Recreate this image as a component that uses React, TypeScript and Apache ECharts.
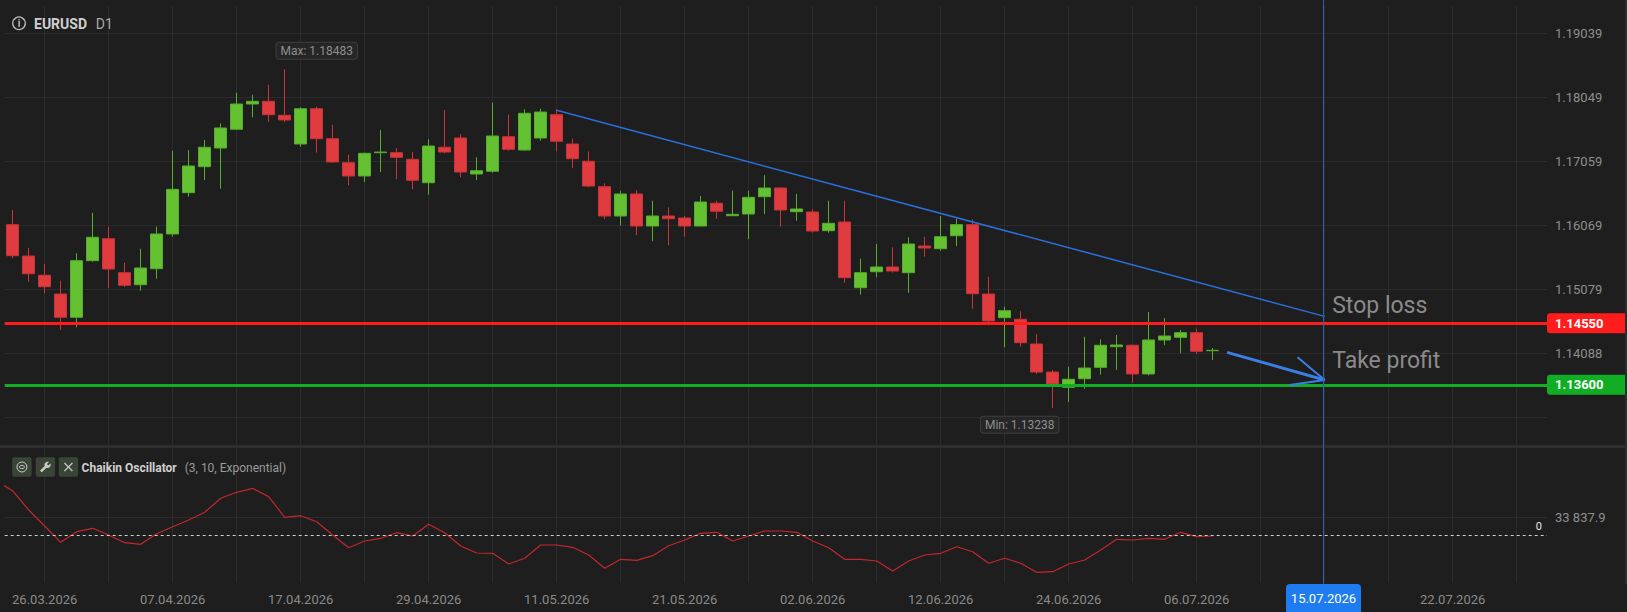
import React, { useEffect, useRef } from "react";
import * as echarts from "echarts";

// ---------- DATA ----------
// daily candles, 24.03.2026 .. 07.07.2026 (weekdays)
const opens = [
  1.16077, 1.15592, 1.15294, 1.15004, 1.14644, 1.1552, 1.1586, 1.15334, 1.15148, 1.15396,
  1.15933, 1.16572, 1.16974, 1.17263, 1.17553, 1.17944, 1.17986, 1.17769, 1.17325, 1.17871,
  1.17407, 1.17036, 1.1683, 1.17191, 1.17191, 1.17088, 1.16726, 1.17274, 1.17418, 1.16861,
  1.16903, 1.17438, 1.17232, 1.17418, 1.17779, 1.17325, 1.17058, 1.16665, 1.16211, 1.16552,
  1.16056, 1.16211, 1.1618, 1.16056, 1.16408, 1.16216, 1.16242, 1.1651, 1.16644, 1.16278,
  1.16273, 1.15984, 1.16118, 1.15102, 1.15349, 1.15422, 1.15334, 1.15747, 1.15705, 1.15906,
  1.16077, 1.15004, 1.14638, 1.14613, 1.14231, 1.13797, 1.13561, 1.13694, 1.1387, 1.14189,
  1.14211, 1.13767, 1.14293, 1.14334, 1.14406, 1.14127,
];
const closes = [
  1.15597, 1.15318, 1.15117, 1.14644, 1.1552, 1.15882, 1.15391, 1.15139, 1.15407, 1.15933,
  1.16624, 1.16985, 1.17274, 1.17573, 1.17944, 1.17986, 1.17779, 1.17697, 1.17871, 1.17407,
  1.17047, 1.1683, 1.17181, 1.17201, 1.17119, 1.16764, 1.17294, 1.17201, 1.16892, 1.16912,
  1.17449, 1.17243, 1.178, 1.1782, 1.17367, 1.17098, 1.16675, 1.16211, 1.16552, 1.16056,
  1.16211, 1.16169, 1.16056, 1.16428, 1.16284, 1.16237, 1.165, 1.16644, 1.16304, 1.1632,
  1.15979, 1.16098, 1.15257, 1.15334, 1.15422, 1.1536, 1.15778, 1.15716, 1.15891, 1.16077,
  1.15009, 1.14587, 1.14746, 1.14251, 1.13797, 1.13612, 1.13685, 1.13859, 1.14211, 1.14215,
  1.13767, 1.14293, 1.14355, 1.14406, 1.14118, 1.14133,
];
const lows = [
  1.15557, 1.15195, 1.15015, 1.14447, 1.14489, 1.15504, 1.15093, 1.15113, 1.15055, 1.15241,
  1.15891, 1.1651, 1.16768, 1.16634, 1.17542, 1.17738, 1.17666, 1.17666, 1.17283, 1.17191,
  1.17036, 1.16686, 1.16737, 1.16892, 1.16779, 1.16624, 1.16541, 1.17181, 1.1681, 1.16768,
  1.16881, 1.17222, 1.17222, 1.17376, 1.17212, 1.16954, 1.16655, 1.1616, 1.16067, 1.15913,
  1.1582, 1.15758, 1.15891, 1.16056, 1.16169, 1.16216, 1.15851, 1.16242, 1.16046, 1.16138,
  1.15953, 1.15953, 1.15179, 1.14994, 1.15263, 1.15334, 1.15024, 1.15581, 1.15674, 1.15747,
  1.14777, 1.1452, 1.1418, 1.14189, 1.13767, 1.13238, 1.13333, 1.13539, 1.13756, 1.13829,
  1.13632, 1.13746, 1.14211, 1.14087, 1.14076, 1.13983,
];
const highs = [
  1.16304, 1.15716, 1.15468, 1.1521, 1.15634, 1.16262, 1.16046, 1.15489, 1.15705, 1.16046,
  1.17222, 1.17232, 1.17387, 1.17645, 1.18119, 1.18088, 1.18243, 1.18483, 1.17893, 1.17902,
  1.17624, 1.1716, 1.17191, 1.17542, 1.17263, 1.17201, 1.17398, 1.17851, 1.1748, 1.17119,
  1.17964, 1.17779, 1.17862, 1.17871, 1.17862, 1.17407, 1.17212, 1.16717, 1.16603, 1.16613,
  1.16448, 1.16346, 1.16211, 1.16521, 1.16448, 1.16603, 1.16603, 1.16841, 1.1665, 1.16552,
  1.16315, 1.16448, 1.16448, 1.15551, 1.15778, 1.15727, 1.15882, 1.15891, 1.16211, 1.16169,
  1.1616, 1.15272, 1.14808, 1.14737, 1.14385, 1.13829, 1.1388, 1.14344, 1.14303, 1.1437,
  1.1422, 1.14726, 1.14633, 1.14447, 1.14468, 1.14169,
];

// Chaikin Oscillator (3, 10, Exponential); first value belongs to the bar before 24.03
const chaikinFirstIndex = -1;
const chaikin = [
  100500, 82000, 46800, 17200, -12950, 6660, 12950, 550, -13700, -16650, 2960,
  15900, 28300, 42550, 68450, 79550, 86950, 71400, 33300, 36260, 25160,
  550, -22940, -10550, -5550, 4810, -1300, 20350, 4810, -19800, -32750,
  -33300, -53100, -42550, -17950, -17950, -22200, -36450, -61050, -44400, -46250,
  -37740, -19240, -8700, 3700, 5550, -10550, -1300, 7950, 7950, 5550,
  -10550, -22940, -44400, -44400, -47550, -66050, -47550, -36450, -33300, -21100,
  -30340, -51800, -42550, -51800, -68450, -67340, -53100, -45700, -27200, -7400,
  -8700, -5550, -7400, 5550, -2590, -1300,
];

const stopLoss = 1.1455;
const takeProfit = 1.136;

// axis ticks
const priceGridValues = [1.130982, 1.140884, 1.150786, 1.160688, 1.17059, 1.180492, 1.190394];
const priceLabelValues = [1.140884, 1.150786, 1.160688, 1.17059, 1.180492, 1.190394];
const chaikinTickValues = [33837.9];
const xGridIndices = [2, 6, 10, 14, 18, 22, 26, 30, 34, 38, 42, 46, 50, 54, 58, 62, 66, 70, 74, 78, 82, 86, 90, 94];
const xLabelIndices = [2, 10, 18, 26, 34, 42, 50, 58, 66, 74, 90];

// annotations (bar index, price)
const cursorIndex = 82;
const cursorLabel = "15.07.2026";
const trendLine = [
  [34, 1.17846],
  [82, 1.14658],
];
const arrowShaft = [
  [75.9, 1.14102],
  [82, 1.13674],
];
const arrowHead = [
  [79.8, 1.13596],
  [82, 1.13674],
  [80.3, 1.14025],
];
const textNotes = [
  { name: "Stop loss", value: [82, 1.14825] },
  { name: "Take profit", value: [82, 1.13968] },
];

// ---------- helpers ----------
function fmtDate(d: Date) {
  const dd = String(d.getUTCDate()).padStart(2, "0");
  const mm = String(d.getUTCMonth() + 1).padStart(2, "0");
  return `${dd}.${mm}.${d.getUTCFullYear()}`;
}
function buildDates(total: number, trading: number): string[] {
  const out: string[] = [];
  const d = new Date(Date.UTC(2026, 2, 24));
  while (out.length < trading) {
    const wd = d.getUTCDay();
    if (wd !== 0 && wd !== 6) out.push(fmtDate(d));
    d.setUTCDate(d.getUTCDate() + 1);
  }
  while (out.length < total) {
    out.push(fmtDate(d));
    d.setUTCDate(d.getUTCDate() + 1);
  }
  return out;
}
function fmtSpaced(v: number) {
  const [i, f] = v.toFixed(1).split(".");
  return i.replace(/\B(?=(\d{3})+(?!\d))/g, " ") + "." + f;
}

const WRENCH =
  "M22.7 19l-9.1-9.1c.9-2.3.4-5-1.5-6.9-2-2-5-2.4-7.4-1.3L9 6 6 9 1.6 4.7C.4 7.1.9 10.1 2.9 12.1c1.9 1.9 4.6 2.4 6.9 1.5l9.1 9.1c.4.4 1 .4 1.4 0l2.3-2.3c.5-.4.5-1.1.1-1.4z";

const BG = "#1e1e1e";
const GRID = "#2b2b2b";
const GREEN = "#63c132";
const GREEN_B = "#57ad2c";
const RED = "#e03b3f";
const RED_B = "#c93438";
const SL_RED = "#ff1c1c";
const TP_GREEN = "#11ad25";
const FONT = "Roboto";

const XMIN = -0.5;
const XMAX = 95.894;
const P_MIN = 1.126681;
const P_MAX = 1.194603;
const C_MIN = -85840;
const C_MAX = 161505;

export default function App() {
  const ref = useRef<HTMLDivElement>(null);

  useEffect(() => {
    const el = ref.current as HTMLDivElement;
    try {
      echarts.graphic.registerShape("wrench", echarts.graphic.extendPath(WRENCH, {}) as any);
    } catch (e) {}
    const chart = echarts.init(el, null, { renderer: "svg" });

    const dates = buildDates(97, opens.length);
    const candles = opens.map((o, i) => [i, o, closes[i], lows[i], highs[i]]);
    const chaikinData = chaikin.map((v, k) => [k + chaikinFirstIndex, v]);
    const maxHigh = Math.max(...highs);
    const maxIdx = highs.indexOf(maxHigh);
    const minLow = Math.min(...lows);
    const minIdx = lows.indexOf(minLow);

    const xAxisBase = (gi: number) => ({
      type: "value",
      gridIndex: gi,
      min: XMIN,
      max: XMAX,
      axisLine: { show: false },
      axisTick: { show: false, customValues: xGridIndices },
      splitLine: { show: true, lineStyle: { color: GRID, width: 1 } },
      axisLabel:
        gi === 1
          ? {
              show: true,
              customValues: xLabelIndices,
              formatter: (v: number) => dates[Math.round(v)] || "",
              color: "#8a8a8a",
              fontSize: 13,
              fontFamily: FONT,
              margin: 11,
            }
          : { show: false },
    });

    const priceLineLabel = (v: number, bg: string) => ({
      show: true,
      position: "end",
      distance: 0,
      formatter: v.toFixed(5),
      color: "#ffffff",
      fontSize: 13,
      fontWeight: "bold",
      fontFamily: FONT,
      backgroundColor: bg,
      padding: [4, 8, 3, 8],
      width: 64,
      align: "left",
      borderRadius: [3, 0, 0, 3],
    });

    const option: any = {
      animation: false,
      backgroundColor: BG,
      textStyle: { fontFamily: FONT },
      grid: [
        { left: 4.7, right: 80, top: 6, bottom: 167, outerBoundsMode: "none" },
        { left: 4.7, right: 80, top: 448, bottom: 30.3, outerBoundsMode: "none" },
      ],
      xAxis: [xAxisBase(0), xAxisBase(1)],
      yAxis: [
        {
          type: "value",
          gridIndex: 0,
          position: "right",
          min: P_MIN,
          max: P_MAX,
          axisLine: { show: false },
          axisTick: { show: false, customValues: priceGridValues },
          splitLine: { show: true, lineStyle: { color: GRID, width: 1 } },
          axisLabel: {
            customValues: priceLabelValues,
            formatter: (v: number) => v.toFixed(5),
            color: "#8e8e8e",
            fontSize: 13,
            fontFamily: FONT,
            margin: 8,
          },
        },
        {
          type: "value",
          gridIndex: 1,
          position: "right",
          min: C_MIN,
          max: C_MAX,
          axisLine: { show: false },
          axisTick: { show: false, customValues: chaikinTickValues },
          splitLine: { show: true, lineStyle: { color: GRID, width: 1 } },
          axisLabel: {
            customValues: chaikinTickValues,
            formatter: (v: number) => fmtSpaced(v),
            color: "#8e8e8e",
            fontSize: 13,
            fontFamily: FONT,
            margin: 8,
          },
        },
      ],
      series: [
        {
          type: "candlestick",
          name: "EURUSD",
          xAxisIndex: 0,
          yAxisIndex: 0,
          data: candles,
          encode: { x: 0, y: [1, 2, 3, 4] },
          barWidth: 12,
          silent: true,
          itemStyle: {
            color: GREEN,
            color0: RED,
            borderColor: GREEN_B,
            borderColor0: RED_B,
            borderWidth: 1,
          },
          markPoint: {
            silent: true,
            symbol: "circle",
            symbolSize: 1,
            itemStyle: { color: "rgba(0,0,0,0)" },
            label: {
              show: true,
              color: "#8e8e8e",
              fontSize: 12,
              fontFamily: FONT,
              backgroundColor: "#262626",
              borderColor: "#3e3e3e",
              borderWidth: 1,
              borderRadius: 3,
              padding: [2, 4, 2, 4],
            },
            data: [
              {
                coord: [maxIdx, maxHigh],
                value: maxHigh,
                label: { position: "top", distance: 10, offset: [32, 0], formatter: `Max: ${maxHigh.toFixed(5)}` },
              },
              {
                coord: [minIdx, minLow],
                value: minLow,
                label: { position: "bottom", distance: 8, offset: [-33, 0], formatter: `Min: ${minLow.toFixed(5)}` },
              },
            ],
          },
        },
        {
          type: "line",
          name: "trend",
          xAxisIndex: 0,
          yAxisIndex: 0,
          data: trendLine,
          symbol: "none",
          silent: true,
          lineStyle: { color: "#2a6fdb", width: 1.5 },
          z: 5,
          markLine: {
            silent: true,
            precision: 5,
            symbol: ["none", "none"],
            data: [
              { yAxis: stopLoss, lineStyle: { color: SL_RED, width: 3, type: "solid" }, label: priceLineLabel(stopLoss, SL_RED) },
              { yAxis: takeProfit, lineStyle: { color: TP_GREEN, width: 3, type: "solid" }, label: priceLineLabel(takeProfit, TP_GREEN) },
            ],
          },
        },
        {
          type: "line",
          name: "arrowShaft",
          xAxisIndex: 0,
          yAxisIndex: 0,
          data: arrowShaft,
          symbol: "none",
          silent: true,
          lineStyle: { color: "#3b7fe6", width: 3 },
          z: 6,
        },
        {
          type: "line",
          name: "arrowHead",
          xAxisIndex: 0,
          yAxisIndex: 0,
          data: arrowHead,
          symbol: "none",
          silent: true,
          lineStyle: { color: "#3b7fe6", width: 2 },
          z: 6,
        },
        {
          type: "scatter",
          name: "notes",
          xAxisIndex: 0,
          yAxisIndex: 0,
          data: textNotes,
          symbol: "circle",
          symbolSize: 1,
          silent: true,
          itemStyle: { color: "rgba(0,0,0,0)" },
          label: {
            show: true,
            position: "right",
            distance: 7,
            formatter: "{b}",
            color: "#a9a9a9",
            fontSize: 23,
            fontFamily: FONT,
          },
          z: 6,
        },
        {
          type: "line",
          name: "Chaikin Oscillator",
          xAxisIndex: 1,
          yAxisIndex: 1,
          data: chaikinData,
          symbol: "none",
          silent: true,
          lineStyle: { color: "#c4262c", width: 1.2 },
          markLine: {
            silent: true,
            precision: 1,
            symbol: ["none", "none"],
            data: [
              {
                yAxis: 0,
                lineStyle: { color: "#cfcfcf", type: [3, 3], width: 1 },
                label: {
                  show: true,
                  position: "insideEndTop",
                  formatter: "0",
                  color: "#e6e6e6",
                  fontSize: 11,
                  fontFamily: FONT,
                  distance: [5, 3],
                },
              },
            ],
          },
        },
      ],
    };

    chart.setOption(option);

    const px = chart.convertToPixel({ xAxisIndex: 0 }, cursorIndex) as unknown as number;
    const btn = (x: number) => ({
      type: "rect",
      shape: { x, y: 457.3, width: 19.4, height: 19.4, r: 2 },
      style: { fill: "#3a4538" },
    });
    const ICON = "#c9c9c9";
    chart.setOption({
      graphic: [
        { type: "rect", shape: { x: 0, y: 445, width: 1627, height: 3 }, style: { fill: "#2f2f2f" }, z: 50 },
        { type: "rect", shape: { x: 1625, y: 0, width: 2, height: 584 }, style: { fill: "#2c2c2c" }, z: 50 },
        // title
        { type: "circle", shape: { cx: 19, cy: 23.3, r: 6.3 }, style: { fill: "none", stroke: "#bdbdbd", lineWidth: 1.3 }, z: 50 },
        {
          type: "text",
          style: { text: "i", x: 19, y: 23.8, fill: "#bdbdbd", fontSize: 10, fontWeight: "bold", fontFamily: FONT, align: "center", verticalAlign: "middle" },
          z: 50,
        },
        {
          type: "text",
          style: { text: "EURUSD", x: 34, y: 23.5, fill: "#cfcfcf", fontSize: 14, fontWeight: "bold", fontFamily: FONT, verticalAlign: "middle" },
          z: 50,
        },
        {
          type: "text",
          style: { text: "D1", x: 95.7, y: 23.5, fill: "#a8a8a8", fontSize: 14, fontFamily: FONT, verticalAlign: "middle" },
          z: 50,
        },
        // indicator header
        { ...btn(12.2), z: 50 },
        { ...btn(35.7), z: 50 },
        { ...btn(58.7), z: 50 },
        { type: "ellipse", shape: { cx: 21.9, cy: 467, rx: 5, ry: 5 }, style: { fill: "none", stroke: ICON, lineWidth: 1 }, z: 51 },
        { type: "ellipse", shape: { cx: 21.9, cy: 467, rx: 2.6, ry: 1.6 }, style: { fill: "none", stroke: ICON, lineWidth: 1 }, z: 51 },
        { type: "wrench", x: 51.2, y: 461.2, scaleX: -0.48, scaleY: 0.48, style: { fill: ICON }, z: 51 },
        { type: "line", shape: { x1: 64.4, y1: 463, x2: 72.4, y2: 471 }, style: { stroke: ICON, lineWidth: 1.2 }, z: 51 },
        { type: "line", shape: { x1: 72.4, y1: 463, x2: 64.4, y2: 471 }, style: { stroke: ICON, lineWidth: 1.2 }, z: 51 },
        {
          type: "text",
          style: { text: "Chaikin Oscillator", x: 81.6, y: 467.5, fill: "#d0d0d0", fontSize: 12, fontWeight: "bold", fontFamily: FONT, verticalAlign: "middle" },
          z: 50,
        },
        {
          type: "text",
          style: { text: "(3, 10, Exponential)", x: 184.7, y: 467.5, fill: "#9a9a9a", fontSize: 12, fontFamily: FONT, verticalAlign: "middle" },
          z: 50,
        },
        // cursor
        { type: "line", shape: { x1: px - 1.2, y1: 0, x2: px - 1.2, y2: 585 }, style: { stroke: "#2d62b5", lineWidth: 1 }, z: 60 },
        { type: "rect", shape: { x: px - 38.7, y: 584, width: 75, height: 30, r: [4, 4, 0, 0] }, style: { fill: "#1e7cf0" }, z: 61 },
        {
          type: "text",
          style: { text: cursorLabel, x: px - 1.2, y: 598.5, fill: "#ffffff", fontSize: 13, fontFamily: FONT, align: "center", verticalAlign: "middle" },
          z: 62,
        },
      ],
    });

    return () => chart.dispose();
  }, []);

  return (
    <div
      ref={ref}
      style={{ position: "fixed", left: 0, top: 0, width: 1627, height: 612, background: BG }}
    />
  );
}
